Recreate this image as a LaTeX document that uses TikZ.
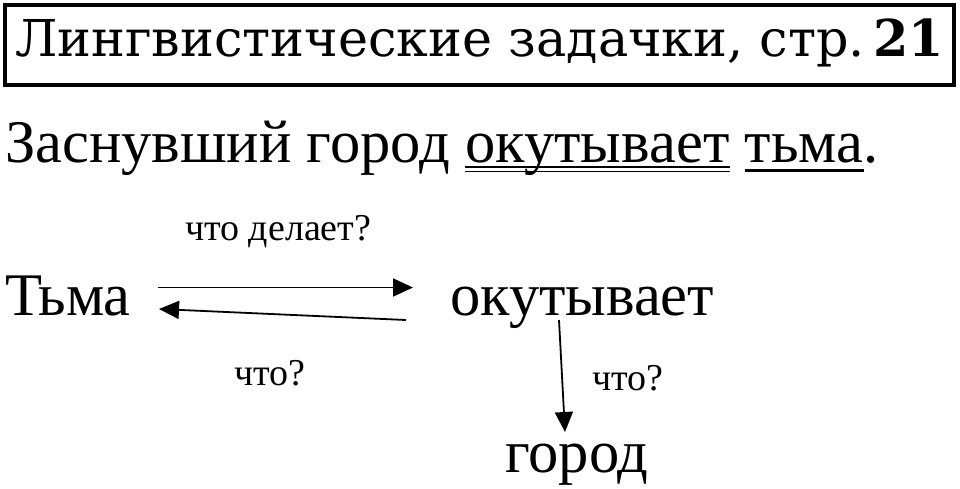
\documentclass[tikz,border=0pt]{standalone}
\usepackage{fontspec}
\setmainfont{Liberation Serif}
\newfontfamily\titlefont{DejaVu Serif}
\usetikzlibrary{arrows.meta}
\tikzset{
  plain/.style={inner sep=0pt, anchor=base west},
  sent/.style={plain, font=\fontsize{60.5}{64}\selectfont},
  word/.style={plain, font=\fontsize{60.5}{64}\selectfont},
  question/.style={plain, font=\fontsize{38}{42}\selectfont},
  link/.style={line width=1.8pt, -{Triangle[length=20pt,width=18pt]}},
}
\begin{document}
\begin{tikzpicture}[x=1pt,y=-1pt]
\useasboundingbox (0,0) rectangle (960,488);
\fill[white] (0,0) rectangle (960,488);
% title
\node[draw, line width=4pt, minimum width=949pt, minimum height=80pt, anchor=north west, inner sep=0pt] (titlebox) at (3,3) {};
\node[plain, font=\titlefont\fontsize{50.8}{54}\selectfont] (title) at (15,56) {Лингвистические задачки, стр.\,\textbf{21}};
% sentence
\node[sent] (s1) at (5,162) {Заснувший город};
\node[sent] (okut) at ([xshift=15pt]s1.base east) {окутывает};
\node[sent] (tma) at ([xshift=15pt]okut.base east) {тьма};
\node[sent] (dot) at (tma.base east) {.};
% underlines
\draw[line width=1.5pt] ([yshift=-5pt]okut.base west) -- ([yshift=-5pt]okut.base east);
\draw[line width=1.5pt] ([yshift=-9.5pt]okut.base west) -- ([yshift=-9.5pt]okut.base east);
\draw[line width=3pt] ([yshift=-8pt]tma.base west) -- ([yshift=-8pt]tma.base east);
% diagram
\node[word] (subj) at (5,315) {Тьма};
\node[word] (verb) at (450,315) {окутывает};
\node[word] (obj) at (505,472) {город};
\node[question] (q1) at (185,240) {что делает?};
\node[question] (q2) at (234,385) {что?};
\node[question] (q3) at (592,390) {что?};
\coordinate (a1s) at (158,287.5);
\coordinate (a1e) at (413,287.5);
\coordinate (a2s) at (406,320);
\coordinate (a2e) at (159,309);
\coordinate (a3s) at (559,320);
\coordinate (a3e) at (565,432);
\draw[link] (a1s) -- (a1e);
\draw[link] (a2s) -- (a2e);
\draw[link] (a3s) -- (a3e);
\end{tikzpicture}
\end{document}
